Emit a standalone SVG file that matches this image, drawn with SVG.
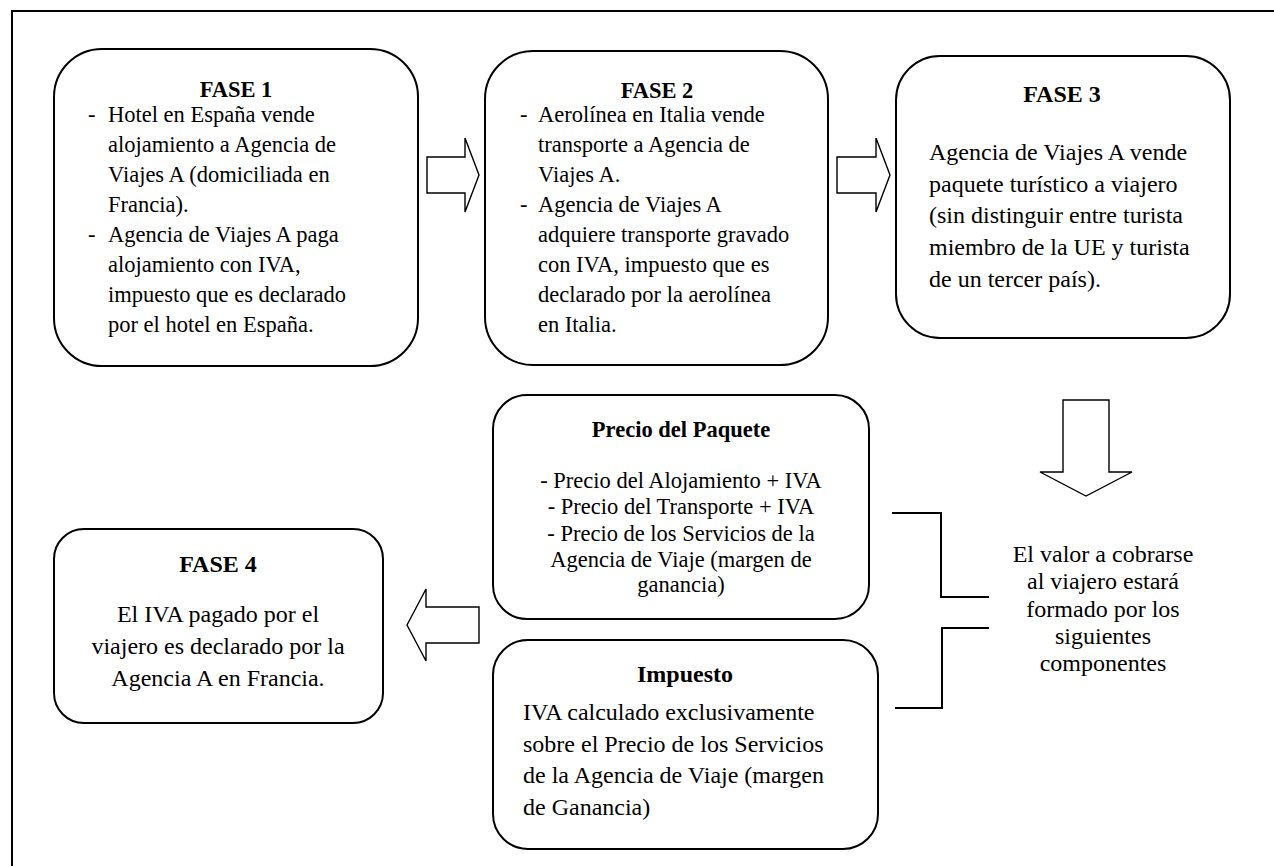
<svg xmlns="http://www.w3.org/2000/svg" width="1274" height="866" viewBox="0 0 1274 866" font-family="'Liberation Serif', Tinos, 'Times New Roman', 'Nimbus Roman', 'DejaVu Serif', serif">
<style>
.box{fill:#fff;stroke:#000;stroke-width:2}
.arr{fill:#fff;stroke:#000;stroke-width:1.4;stroke-linejoin:miter}
.ln{fill:none;stroke:#000;stroke-width:2}
.t{font-size:22.5px;font-weight:bold;text-anchor:middle}
.T{font-size:24px;font-weight:bold;text-anchor:middle}
.b{font-size:22.5px}
.B{font-size:24px}
.c{text-anchor:middle}
</style>
<rect width="1274" height="866" fill="#fff"/>
<path class="ln" d="M12,880 V11 H1290"/>

<g id="connectors">
<polygon class="arr" points="427,157 465,157 465,138 479,175 465,212 465,193 427,193"/>
<polygon class="arr" points="837,157 876,157 876,138 890,175 876,212 876,193 837,193"/>
<polygon class="arr" points="1063,400 1109,400 1109,472 1132,472 1086,496 1040,472 1063,472"/>
<polygon class="arr" points="407,625 426,589 426,607 479,607 479,643 426,643 426,661"/>
<path class="ln" d="M892,513 H941 V597 H989"/>
<path class="ln" d="M989,628 H942 V708 H895"/>
</g>

<g id="fase1">
<rect class="box" x="54" y="49" width="364" height="317" rx="48" ry="48"/>
<text class="t" x="236" y="97">FASE 1</text>
<text class="b" x="88" y="122">-</text>
<text class="b" x="108" y="122">Hotel en España vende</text>
<text class="b" x="108" y="152">alojamiento a Agencia de</text>
<text class="b" x="108" y="182">Viajes A (domiciliada en</text>
<text class="b" x="108" y="212">Francia).</text>
<text class="b" x="88" y="242">-</text>
<text class="b" x="108" y="242">Agencia de Viajes A paga</text>
<text class="b" x="108" y="272">alojamiento con IVA,</text>
<text class="b" x="108" y="302">impuesto que es declarado</text>
<text class="b" x="108" y="332">por el hotel en España.</text>
</g>

<g id="fase2">
<rect class="box" x="485" y="51" width="343" height="314" rx="48" ry="48"/>
<text class="t" x="657" y="98">FASE 2</text>
<text class="b" x="520" y="122">-</text>
<text class="b" x="538" y="122">Aerolínea en Italia vende</text>
<text class="b" x="538" y="152">transporte a Agencia de</text>
<text class="b" x="538" y="182">Viajes A.</text>
<text class="b" x="520" y="212">-</text>
<text class="b" x="538" y="212">Agencia de Viajes A</text>
<text class="b" x="538" y="242">adquiere transporte gravado</text>
<text class="b" x="538" y="272">con IVA, impuesto que es</text>
<text class="b" x="538" y="302">declarado por la aerolínea</text>
<text class="b" x="538" y="332">en Italia.</text>
</g>

<g id="fase3">
<rect class="box" x="896" y="56" width="334" height="282" rx="44" ry="44"/>
<text class="T" x="1062" y="102">FASE 3</text>
<text class="B" x="929" y="160">Agencia de Viajes A vende</text>
<text class="B" x="929" y="192">paquete turístico a viajero</text>
<text class="B" x="929" y="223">(sin distinguir entre turista</text>
<text class="B" x="929" y="255">miembro de la UE y turista</text>
<text class="B" x="929" y="287">de un tercer país).</text>
</g>

<g id="precio">
<rect class="box" x="493" y="395" width="376" height="224" rx="34" ry="34"/>
<text class="t" x="681" y="437">Precio del Paquete</text>
<text class="b c" x="681" y="488">- Precio del Alojamiento + IVA</text>
<text class="b c" x="681" y="514">- Precio del Transporte + IVA</text>
<text class="b c" x="681" y="541">- Precio de los Servicios de la</text>
<text class="b c" x="681" y="567">Agencia de Viaje (margen de</text>
<text class="b c" x="681" y="592">ganancia)</text>
</g>

<g id="impuesto">
<rect class="box" x="493" y="640" width="385" height="209" rx="35" ry="35"/>
<text class="T" x="685" y="682">Impuesto</text>
<text class="B" x="523" y="720">IVA calculado exclusivamente</text>
<text class="B" x="523" y="752">sobre el Precio de los Servicios</text>
<text class="B" x="523" y="783">de la Agencia de Viaje (margen</text>
<text class="B" x="523" y="815">de Ganancia)</text>
</g>

<g id="fase4">
<rect class="box" x="54" y="529" width="329" height="194" rx="30" ry="30"/>
<text class="T" x="218" y="572">FASE 4</text>
<text class="B c" x="218" y="622">El IVA pagado por el</text>
<text class="B c" x="218" y="654">viajero es declarado por la</text>
<text class="B c" x="218" y="686">Agencia A en Francia.</text>
</g>

<g id="valor">
<text class="B c" x="1103" y="562">El valor a cobrarse</text>
<text class="B c" x="1103" y="589">al viajero estará</text>
<text class="B c" x="1103" y="617">formado por los</text>
<text class="B c" x="1103" y="644">siguientes</text>
<text class="B c" x="1103" y="671">componentes</text>
</g>
</svg>
